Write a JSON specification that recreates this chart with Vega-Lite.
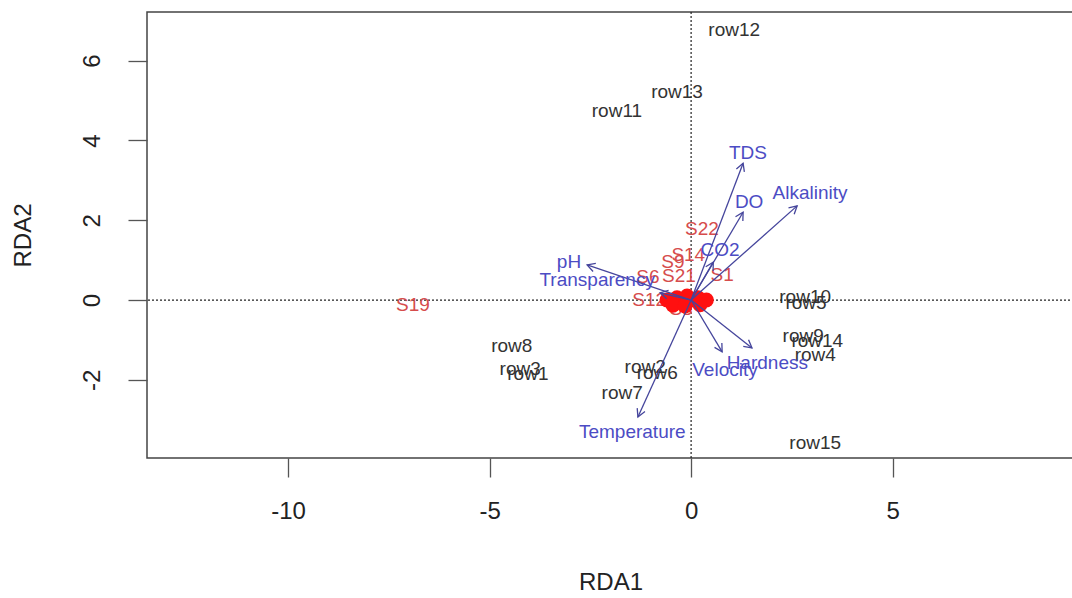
{
  "$schema": "https://vega.github.io/schema/vega-lite/v6.json",
  "width": 927,
  "height": 446,
  "autosize": {"type": "none"},
  "padding": {"left": 147, "top": 12, "right": 0, "bottom": 140},
  "background": "white",
  "config": {
    "view": {"stroke": "#444", "strokeWidth": 1.5},
    "font": "Liberation Sans",
    "axis": {
      "grid": false,
      "domain": false,
      "tickColor": "#555",
      "tickWidth": 1.3,
      "tickSize": 19,
      "labelFont": "Liberation Sans",
      "labelFontSize": 24,
      "labelColor": "#222",
      "titleFont": "Liberation Sans",
      "titleFontSize": 24,
      "titleFontWeight": "normal",
      "titleColor": "#222"
    },
    "text": {"font": "Liberation Sans", "fontSize": 19, "align": "center", "baseline": "middle"}
  },
  "datasets": {
    "sites": [
      {"label": "row1", "x": -4.05, "y": -1.86},
      {"label": "row2", "x": -1.14, "y": -1.68},
      {"label": "row3", "x": -4.24, "y": -1.74},
      {"label": "row4", "x": 3.08, "y": -1.38},
      {"label": "row5", "x": 2.85, "y": -0.08},
      {"label": "row6", "x": -0.84, "y": -1.83},
      {"label": "row7", "x": -1.71, "y": -2.33},
      {"label": "row8", "x": -4.45, "y": -1.16},
      {"label": "row9", "x": 2.78, "y": -0.9},
      {"label": "row10", "x": 2.83, "y": 0.08},
      {"label": "row11", "x": -1.84, "y": 4.74},
      {"label": "row12", "x": 1.07, "y": 6.77},
      {"label": "row13", "x": -0.35, "y": 5.21},
      {"label": "row14", "x": 3.13, "y": -1.03},
      {"label": "row15", "x": 3.08, "y": -3.58}
    ],
    "species": [
      {"label": "S19", "x": -6.9, "y": -0.12},
      {"label": "S22", "x": 0.27, "y": 1.78},
      {"label": "S9", "x": -0.45, "y": 0.95},
      {"label": "S14", "x": -0.07, "y": 1.12},
      {"label": "S6", "x": -1.07, "y": 0.58},
      {"label": "S21", "x": -0.3, "y": 0.6},
      {"label": "S1", "x": 0.77, "y": 0.63},
      {"label": "S12", "x": -1.04, "y": 0.0},
      {"label": "S3", "x": -0.25, "y": -0.22}
    ],
    "blob": [
      {"x": -0.6, "y": 0.0},
      {"x": -0.35, "y": 0.06},
      {"x": -0.07, "y": -0.03},
      {"x": 0.17, "y": 0.06},
      {"x": 0.38, "y": 0.0},
      {"x": -0.45, "y": -0.13},
      {"x": 0.22, "y": -0.12},
      {"x": -0.1, "y": 0.1},
      {"x": -0.15, "y": -0.15}
    ],
    "env": [
      {"label": "TDS", "x": 1.29, "y": 3.43, "lx": 1.41, "ly": 3.68},
      {"label": "DO", "x": 1.29, "y": 2.2, "lx": 1.44, "ly": 2.46},
      {"label": "Alkalinity", "x": 2.63, "y": 2.36, "lx": 2.95, "ly": 2.68},
      {"label": "CO2", "x": 0.55, "y": 0.95, "lx": 0.72, "ly": 1.25},
      {"label": "pH", "x": -2.58, "y": 0.88, "lx": -3.03, "ly": 0.95},
      {"label": "Transparency", "x": -0.77, "y": 0.18, "lx": -2.33, "ly": 0.5},
      {"label": "Hardness", "x": 1.51, "y": -1.2, "lx": 1.89, "ly": -1.58},
      {"label": "Velocity", "x": 0.77, "y": -1.3, "lx": 0.84, "ly": -1.75},
      {"label": "Temperature", "x": -1.32, "y": -2.93, "lx": -1.46, "ly": -3.31}
    ]
  },
  "layer": [
    {
      "data": {"name": "sites"},
      "mark": {"type": "text", "color": "#333"},
      "encoding": {
        "x": {"field": "x", "type": "quantitative", "scale": {"domain": [-13.5, 9.5], "nice": false, "zero": false},
              "axis": {"values": [-10, -5, 0, 5], "labelExpr": "'' + datum.value", "title": "RDA1", "labelPadding": 22, "titleY": 124, "titleBaseline": "middle"}},
        "y": {"field": "y", "type": "quantitative", "scale": {"domain": [-3.96, 7.22], "nice": false, "zero": false},
              "axis": {"values": [-2, 0, 2, 4, 6], "labelExpr": "'' + datum.value", "title": "RDA2", "labelAngle": -90, "labelPadding": 24, "titleX": -124, "titleY": 223, "titleAngle": -90, "titleBaseline": "middle", "titleAlign": "center"}},
        "text": {"field": "label"}
      }
    },
    {
      "data": {"values": [{"v": 0}]},
      "mark": {"type": "rule", "strokeDash": [2, 2], "color": "#222", "strokeWidth": 1.2},
      "encoding": {"y": {"field": "v", "type": "quantitative"}}
    },
    {
      "data": {"values": [{"v": 0}]},
      "mark": {"type": "rule", "strokeDash": [2, 2], "color": "#222", "strokeWidth": 1.2},
      "encoding": {"x": {"field": "v", "type": "quantitative"}}
    },
    {
      "data": {"name": "species"},
      "mark": {"type": "text", "color": "#d64c4c"},
      "encoding": {
        "x": {"field": "x", "type": "quantitative"},
        "y": {"field": "y", "type": "quantitative"},
        "text": {"field": "label"}
      }
    },
    {
      "data": {"name": "blob"},
      "mark": {"type": "point", "shape": "circle", "filled": true, "color": "#ff1010", "size": 220, "opacity": 1},
      "encoding": {
        "x": {"field": "x", "type": "quantitative"},
        "y": {"field": "y", "type": "quantitative"}
      }
    },
    {
      "data": {"name": "env"},
      "transform": [{"calculate": "0", "as": "o"}],
      "mark": {"type": "rule", "color": "#45459c", "strokeWidth": 1.3},
      "encoding": {
        "x": {"field": "o", "type": "quantitative"},
        "y": {"field": "o", "type": "quantitative"},
        "x2": {"field": "x"},
        "y2": {"field": "y"}
      }
    },
    {
      "data": {"name": "env"},
      "transform": [{"calculate": "atan2(datum.x, datum.y) * 180 / PI", "as": "ang"}],
      "mark": {"type": "point", "shape": "M-0.55,1L0,0L0.55,1", "filled": false, "color": "#45459c", "strokeWidth": 1.3, "size": 240, "opacity": 1},
      "encoding": {
        "x": {"field": "x", "type": "quantitative"},
        "y": {"field": "y", "type": "quantitative"},
        "angle": {"field": "ang", "type": "quantitative", "scale": null}
      }
    },
    {
      "data": {"name": "env"},
      "mark": {"type": "text", "color": "#4c4cc4"},
      "encoding": {
        "x": {"field": "lx", "type": "quantitative"},
        "y": {"field": "ly", "type": "quantitative"},
        "text": {"field": "label"}
      }
    }
  ]
}
